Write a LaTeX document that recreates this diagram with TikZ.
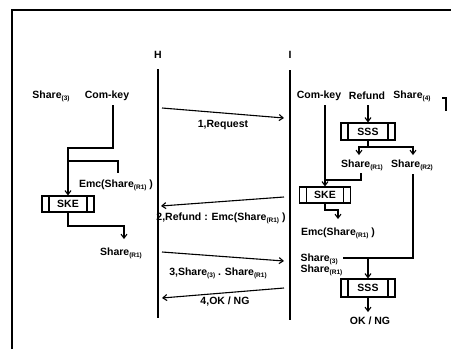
\documentclass[tikz,border=0pt]{standalone}
\usepackage{fontspec}
\setmainfont{Liberation Sans}
\usetikzlibrary{arrows.meta}
\newcommand\shsub[1]{\raisebox{-2.2pt}{\fontsize{6.5}{6.5}\selectfont #1}}
\begin{document}
\begin{tikzpicture}[x=1pt,y=-1pt, line width=1.1pt,
 lbl/.style={inner sep=0pt, font=\fontsize{10.5}{12}\selectfont\bfseries},
 arr/.style={-{Straight Barb[length=4pt,width=6pt]}},
 proc/.style={draw, minimum width=#1, minimum height=16pt, inner sep=0pt, font=\fontsize{10.5}{12}\selectfont\bfseries,
   path picture={\draw ([xshift=7pt]path picture bounding box.north west) -- ([xshift=7pt]path picture bounding box.south west);
                 \draw ([xshift=-7pt]path picture bounding box.north east) -- ([xshift=-7pt]path picture bounding box.south east);}},
]
\useasboundingbox (0,0) rectangle (451,349);
\draw[line width=1.6pt] (12,349) -- (12,10) -- (451,10);

% lifelines
\node[lbl] (H) at (158,55) {H};
\node[lbl] (I) at (290,55) {I};
\coordinate (Ht) at (158,69); \coordinate (Hb) at (158,318);
\coordinate (It) at (290,70); \coordinate (Ib) at (290,320);
\draw (Ht) -- (Hb);
\draw (It) -- (Ib);

% messages
\coordinate (m1s) at (162,108); \coordinate (m1e) at (284,118);
\draw[arr] (m1s) -- (m1e);
\node[lbl] (m1) at (223,125) {1,Request};
\coordinate (m2s) at (284,197); \coordinate (m2e) at (161,206);
\draw[arr] (m2s) -- (m2e);
\node[lbl] (m2) at (221,218) {2,Refund : Emc(Share\shsub{(R1)} )};
\coordinate (m3s) at (162,252); \coordinate (m3e) at (284,261);
\draw[arr] (m3s) -- (m3e);
\node[lbl] (m3) at (218,273) {3,Share\shsub{(3)} . Share\shsub{(R1)}};
\coordinate (m4s) at (284,288); \coordinate (m4e) at (162,298);
\draw[arr] (m4s) -- (m4e);
\node[lbl] (m4) at (225,302) {4,OK / NG};

% left side
\node[lbl] (ls3) at (51,96) {Share\shsub{(3)}};
\node[lbl] (lck) at (107,96) {Com-key};
\node[proc=52pt] (lske) at (68,204) {SKE};
\node[lbl] (lemc) at (116,185) {Emc(Share\shsub{(R1)} )};
\node[lbl] (lr1) at (121,253) {Share\shsub{(R1)}};
\coordinate (lc1) at (113,105); \coordinate (lc2) at (113,148); \coordinate (lc3) at (68,148);
\draw[arr] (lc1) -- (lc2) -- (lc3) -- (lske.north);
\coordinate (le1) at (68,161); \coordinate (le2) at (118,161); \coordinate (le3) at (118,173);
\draw (le1) -- (le2) -- (le3);
\coordinate (lo1) at (68,226); \coordinate (lo2) at (124,226); \coordinate (lo3) at (124,239);
\draw[arr] (lske.south) -- (lo1) -- (lo2) -- (lo3);

% right side
\node[lbl] (rck) at (319,96) {Com-key};
\node[lbl] (rref) at (367,96) {Refund};
\node[lbl] (rs4) at (412,96) {Share\shsub{(4)}};
\coordinate (b1) at (442,98); \coordinate (b2) at (446,98); \coordinate (b3) at (446,111);
\draw (b1) -- (b2) -- (b3);
\node[proc=54pt, minimum height=17pt] (sss1) at (368,131.5) {SSS};
\coordinate (rf1) at (368,105);
\draw[arr] (rf1) -- (sss1.north);
\coordinate (sp) at (368,147); \coordinate (spl) at (359,147); \coordinate (spr) at (413,147);
\coordinate (spl2) at (359,155); \coordinate (spr2) at (413,155);
\draw[arr] (sss1.south) -- (sp) -- (spl) -- (spl2);
\draw[arr] (sp) -- (spr) -- (spr2);
\node[lbl] (rr1) at (362,165) {Share\shsub{(R1)}};
\node[lbl] (rr2) at (412,165) {Share\shsub{(R2)}};
\node[proc=51pt] (rske) at (325,195) {SKE};
\coordinate (rc1) at (325,105);
\draw[arr] (rc1) -- (rske.north);
\coordinate (rj1) at (361,173); \coordinate (rj2) at (361,180); \coordinate (rj3) at (325,180);
\draw (rj1) -- (rj2) -- (rj3);
\coordinate (ro1) at (325,210); \coordinate (ro2) at (338,210); \coordinate (ro3) at (338,219);
\draw[arr] (rske.south) -- (ro1) -- (ro2) -- (ro3);
\node[lbl] (remc) at (338,233) {Emc(Share\shsub{(R1)} )};
\node[lbl, anchor=west] (rs3) at (300,259) {Share\shsub{(3)}};
\node[lbl, anchor=west] (rsr1) at (300,270) {Share\shsub{(R1)}};
\node[proc=54pt, minimum height=18pt] (sss2) at (368,288) {SSS};
\coordinate (r21) at (413,174); \coordinate (r22) at (413,258); \coordinate (r23) at (343,258);
\draw (r21) -- (r22) -- (r23);
\coordinate (r24) at (368,258);
\draw[arr] (r24) -- (sss2.north);
\coordinate (okt) at (368,312);
\draw[arr] (sss2.south) -- (okt);
\node[lbl] (ok) at (370,321) {OK / NG};
\end{tikzpicture}
\end{document}
